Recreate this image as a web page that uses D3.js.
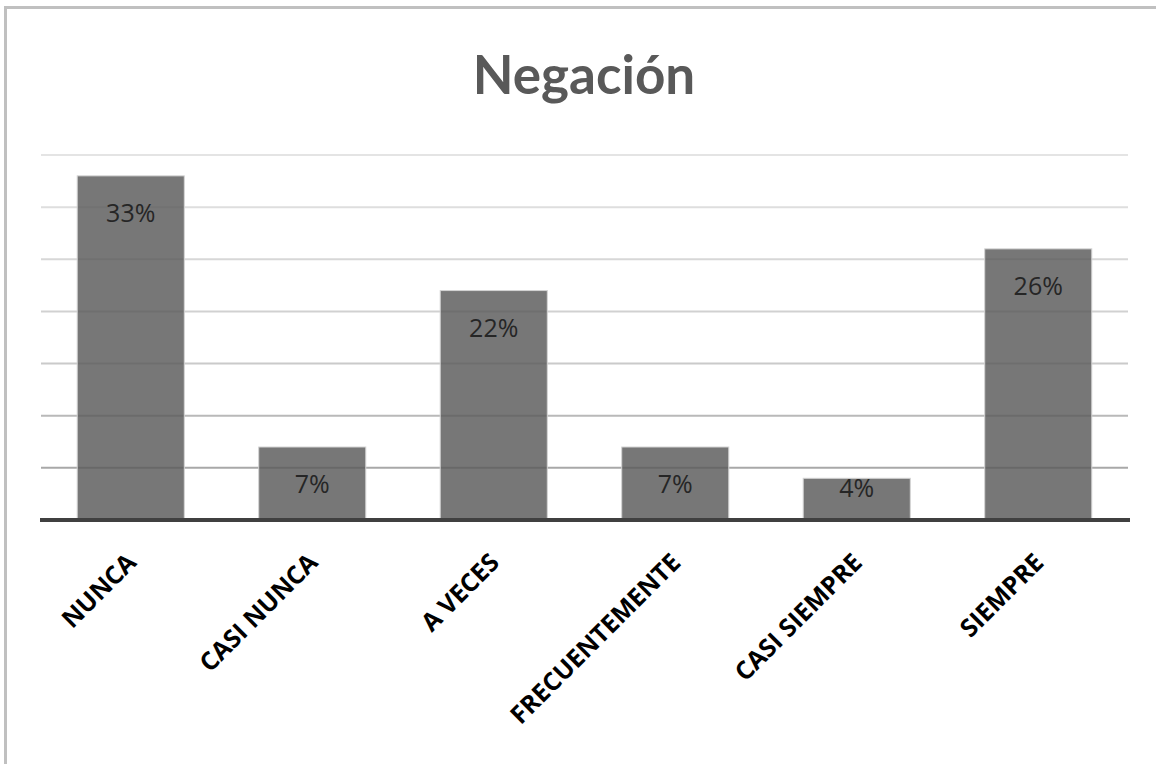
<!DOCTYPE html>
<html>
<head>
<meta charset="utf-8">
<script src="https://cdn.jsdelivr.net/npm/d3@7"></script>
<style>
  body { margin: 0; background: #fff; }
  svg { display: block; }
</style>
</head>
<body>
<svg id="chart" width="1156" height="764"></svg>
<script>
const title = 'Negación';
const categories = ['NUNCA', 'CASI NUNCA', 'A VECES', 'FRECUENTEMENTE', 'CASI SIEMPRE', 'SIEMPRE'];
const values = [33, 7, 22, 7, 4, 26];
const labels = ['33%', '7%', '22%', '7%', '4%', '26%'];
const gridTicks = [5, 10, 15, 20, 25, 30, 35];

const svg = d3.select('#chart');

// outer frame, cut off at right and bottom like the source image
svg.append('rect')
  .attr('x', 5.5).attr('y', 7.5)
  .attr('width', 1300).attr('height', 900)
  .attr('fill', 'none')
  .attr('stroke', '#c0c0c0')
  .attr('stroke-width', 3);

const x = d3.scaleBand()
  .domain(categories)
  .range([40, 1129])
  .paddingInner(0.41)
  .paddingOuter(0.205);

const y = d3.scaleLinear()
  .domain([0, 35])
  .range([520, 155]);

// gridlines get darker towards the bottom
const gridColor = d3.scaleLinear()
  .domain([5, 15, 35])
  .range(['#a8a8a8', '#cacaca', '#e4e4e4']);

svg.append('g')
  .selectAll('line')
  .data(gridTicks)
  .join('line')
  .attr('x1', 41).attr('x2', 1128)
  .attr('y1', d => y(d)).attr('y2', d => y(d))
  .attr('stroke', d => gridColor(d))
  .attr('stroke-width', 2);

svg.append('g')
  .selectAll('rect')
  .data(values)
  .join('rect')
  .attr('x', (d, i) => x(categories[i]))
  .attr('width', x.bandwidth())
  .attr('y', d => y(d))
  .attr('height', d => y(0) - y(d))
  .attr('fill', '#5c5c5c')
  .attr('fill-opacity', 0.83)
  .attr('stroke', '#d4d4d4')
  .attr('stroke-width', 1);

// baseline
svg.append('line')
  .attr('x1', 40).attr('x2', 1130)
  .attr('y1', y(0)).attr('y2', y(0))
  .attr('stroke', '#404040')
  .attr('stroke-width', 4);

// value labels, inside end of the bar
svg.append('g')
  .selectAll('text')
  .data(values)
  .join('text')
  .attr('x', (d, i) => x(categories[i]) + x.bandwidth() / 2)
  .attr('y', d => Math.min(y(d) + 46, y(0) - 23))
  .attr('text-anchor', 'middle')
  .attr('font-family', '"Open Sans", sans-serif')
  .attr('font-size', 25)
  .attr('fill', '#262626')
  .text((d, i) => labels[i]);

// category labels, rotated
svg.append('g')
  .selectAll('text')
  .data(categories)
  .join('text')
  .attr('transform', d => `translate(${x(d) + x.bandwidth() / 2 + 7},564) rotate(-45)`)
  .attr('text-anchor', 'end')
  .attr('font-family', '"Open Sans", sans-serif')
  .attr('font-weight', 'bold')
  .attr('font-size', 25)
  .attr('fill', '#000')
  .text(d => d);

svg.append('text')
  .attr('x', 584)
  .attr('y', 94)
  .attr('text-anchor', 'middle')
  .attr('font-family', 'Lato, sans-serif')
  .attr('font-weight', 'bold')
  .attr('font-size', 53)
  .attr('fill', '#595959')
  .text(title);
</script>
</body>
</html>
